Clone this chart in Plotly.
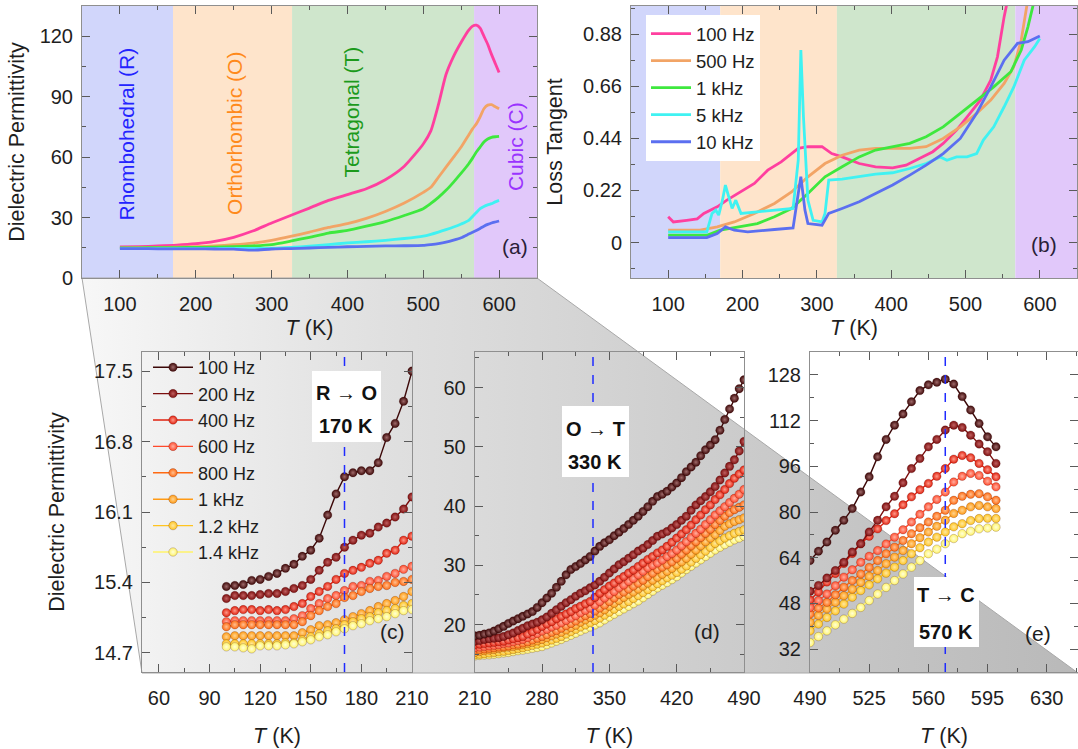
import plotly.graph_objects as go

W, H = 1078, 749
FONT = "Liberation Sans, Arial, sans-serif"

# ---------------- data: panel (a) dielectric permittivity, full range ----------------
T_a = [100, 125, 150, 175, 200, 225, 250, 275, 300, 325, 350, 375, 400, 425, 450, 475, 500,
       510, 520, 530, 540, 550, 560, 565, 570, 575, 580, 585, 590, 595, 600]
eps_a_100Hz = [15.4, 15.6, 15.9, 16.3, 17.0, 18.2, 20.2, 23.3, 27.3, 31.0, 34.7, 38.5, 41.4, 44.3, 48.8, 55.5, 66.5,
               73, 86, 101, 110, 117, 123, 125, 125.5, 124, 120, 116, 111, 106.5, 102]
eps_a_500Hz = [15.0, 15.1, 15.2, 15.3, 15.5, 15.9, 16.5, 17.3, 18.7, 20.6, 22.8, 25.1, 27.0, 29.6, 33.0, 37.2, 42.5,
               45, 50, 55, 60, 65, 71, 74, 76.5, 80, 84, 85.8, 86, 85, 84]
eps_a_1kHz = [15.0, 15.0, 15.1, 15.1, 15.2, 15.3, 15.5, 15.9, 16.6, 18.3, 20.2, 22.3, 23.6, 25.7, 28.0, 31.0, 34.4,
              37, 40, 43.5, 47.6, 52, 56.7, 59.5, 62.5, 65, 67.5, 69, 69.8, 70.1, 70.3]
eps_a_5kHz = [14.6, 14.6, 14.6, 14.6, 14.6, 14.6, 14.7, 14.7, 14.8, 15.2, 15.8, 16.6, 17.4, 18.0, 18.7, 19.6, 20.8,
              21.7, 22.8, 24.0, 25.3, 26.8, 28.6, 30.5, 32.5, 34.4, 35.5, 36.3, 36.9, 37.8, 38.5]
eps_a_10kHz = [14.6, 14.6, 14.5, 14.5, 14.5, 14.4, 14.3, 13.8, 14.4, 14.6, 14.9, 15.2, 15.5, 15.7, 15.9, 16.0, 16.2,
               16.6, 17.1, 17.8, 18.8, 20.0, 21.8, 22.7, 23.6, 24.6, 25.7, 26.6, 27.3, 27.8, 28.3]

# ---------------- data: panel (b) loss tangent ----------------
T_b_100Hz = [100, 107, 125, 139, 148, 166, 179, 198, 216, 234, 252, 275, 288, 307, 320, 334, 357, 379, 402, 420,
             438, 456, 470, 488, 506, 520, 534, 543, 552, 559]
tan_b_100Hz = [0.109, 0.087, 0.094, 0.10, 0.123, 0.151, 0.179, 0.214, 0.25, 0.306, 0.341, 0.398, 0.405, 0.405,
               0.376, 0.362, 0.334, 0.32, 0.316, 0.327, 0.355, 0.384, 0.419, 0.475, 0.546, 0.602, 0.687, 0.785,
               0.955, 1.06]
T_b_500Hz = [100, 143, 166, 189, 216, 243, 266, 288, 311, 334, 357, 379, 425, 447, 470, 493, 515, 534, 552, 565,
             575, 584]
tan_b_500Hz = [0.052, 0.052, 0.066, 0.087, 0.123, 0.165, 0.214, 0.278, 0.334, 0.369, 0.391, 0.398, 0.398, 0.405,
               0.44, 0.489, 0.546, 0.602, 0.673, 0.743, 0.856, 1.03]
T_b_1kHz = [100, 152, 170, 198, 220, 243, 266, 288, 311, 334, 357, 379, 402, 425, 447, 470, 493, 515, 538, 561,
            575, 584, 593]
tan_b_1kHz = [0.031, 0.031, 0.052, 0.066, 0.080, 0.109, 0.144, 0.207, 0.278, 0.32, 0.362, 0.391, 0.405, 0.419,
              0.447, 0.489, 0.546, 0.602, 0.658, 0.722, 0.814, 0.912, 1.03]
T_b_5kHz = [100, 152, 159, 164, 168, 173, 177, 182, 186, 191, 198, 220, 243, 268, 275, 278.5, 282, 288, 295, 307,
            311, 316, 334, 357, 379, 402, 425, 447, 466, 475, 488, 502, 515, 524, 538, 552, 565, 579, 593, 600]
tan_b_5kHz = [0.045, 0.045, 0.123, 0.137, 0.116, 0.179, 0.243, 0.193, 0.144, 0.179, 0.123, 0.130, 0.137, 0.144,
              0.348, 0.814, 0.532, 0.179, 0.094, 0.087, 0.123, 0.264, 0.268, 0.278, 0.289, 0.295, 0.313, 0.334,
              0.362, 0.348, 0.362, 0.362, 0.376, 0.433, 0.489, 0.574, 0.658, 0.771, 0.828, 0.863]
T_b_10kHz = [100, 152, 166, 177, 189, 207, 243, 268, 275, 278.5, 284, 288, 307, 316, 334, 357, 379, 402, 425, 447,
             470, 493, 515, 534, 552, 570, 584, 600]
tan_b_10kHz = [0.021, 0.021, 0.038, 0.066, 0.052, 0.045, 0.055, 0.062, 0.207, 0.278, 0.137, 0.080, 0.073, 0.123,
               0.144, 0.172, 0.207, 0.243, 0.285, 0.327, 0.376, 0.44, 0.546, 0.658, 0.771, 0.842, 0.849, 0.873]

# ---------------- data: panel (c) 100-210 K ----------------
T_c = [100, 105, 110, 115, 120, 125, 130, 135, 140, 145, 150, 155, 160, 165, 170, 175, 180, 185, 190, 195, 200, 205, 210]
eps_c_100Hz = [15.36, 15.37, 15.38, 15.42, 15.43, 15.46, 15.49, 15.54, 15.58, 15.66, 15.72, 15.84, 16.07, 16.28,
               16.45, 16.49, 16.51, 16.51, 16.59, 16.84, 16.98, 17.20, 17.50]
eps_c_200Hz = [15.24, 15.27, 15.27, 15.27, 15.28, 15.29, 15.29, 15.31, 15.34, 15.37, 15.43, 15.52, 15.60, 15.65,
               15.75, 15.82, 15.87, 15.89, 15.95, 15.99, 16.05, 16.13, 16.25]
eps_c_400Hz = [15.10, 15.12, 15.13, 15.13, 15.12, 15.13, 15.12, 15.13, 15.16, 15.19, 15.26, 15.31, 15.36, 15.43,
               15.49, 15.52, 15.55, 15.59, 15.62, 15.69, 15.72, 15.82, 15.86]
eps_c_600Hz = [15.01, 15.02, 15.02, 15.02, 15.02, 15.02, 15.02, 15.02, 15.04, 15.07, 15.14, 15.19, 15.24, 15.27,
               15.32, 15.36, 15.37, 15.41, 15.42, 15.46, 15.49, 15.53, 15.56]
eps_c_800Hz = [14.96, 14.98, 14.98, 14.98, 14.98, 14.98, 14.98, 14.98, 14.98, 15.01, 15.07, 15.12, 15.16, 15.19,
               15.25, 15.27, 15.31, 15.34, 15.36, 15.37, 15.40, 15.41, 15.43]
eps_c_1kHz = [14.86, 14.87, 14.87, 14.87, 14.87, 14.87, 14.87, 14.87, 14.87, 14.90, 14.93, 14.97, 14.98, 15.00,
              15.03, 15.06, 15.09, 15.12, 15.16, 15.19, 15.22, 15.26, 15.31]
eps_c_1p2kHz = [14.79, 14.79, 14.79, 14.79, 14.79, 14.79, 14.79, 14.80, 14.80, 14.83, 14.86, 14.89, 14.92, 14.94,
                14.98, 15.01, 15.04, 15.06, 15.10, 15.12, 15.14, 15.17, 15.19]
eps_c_1p4kHz = [14.76, 14.76, 14.75, 14.74, 14.77, 14.77, 14.77, 14.78, 14.79, 14.81, 14.83, 14.86, 14.88, 14.91,
                14.94, 14.97, 14.99, 15.02, 15.04, 15.06, 15.09, 15.12, 15.13]

# ---------------- data: panel (d) 210-490 K ----------------
T_d = [210, 215, 220, 225, 230, 235, 240, 245, 250, 255, 260, 265, 270, 275, 280, 285, 290, 295, 300, 305,
       310, 315, 320, 325, 330, 335, 340, 345, 350, 355, 360, 365, 370, 375, 380, 385, 390, 395, 400, 405,
       410, 415, 420, 425, 430, 435, 440, 445, 450, 455, 460, 465, 470, 475, 480, 485, 490]
eps_d_100Hz = [18.1, 18.2, 18.4, 18.6, 18.9, 19.3, 19.7, 20.2, 20.6, 21.0, 21.4, 21.8, 22.2, 22.9, 23.7, 24.5,
               25.3, 26.3, 27.3, 28.4, 29.3, 29.8, 30.3, 30.9, 31.5, 32.4, 33.2, 33.8, 34.3, 35.0, 35.6, 36.2,
               36.9, 37.6, 38.3, 39.1, 39.9, 40.8, 41.6, 42.0, 42.5, 43.2, 43.9, 44.8, 45.8, 46.6, 47.4, 48.5,
               49.5, 50.3, 51.2, 52.8, 54.6, 56.4, 58.2, 59.8, 61.3]
eps_d_200Hz = [17.2, 17.3, 17.5, 17.6, 17.7, 17.8, 18.0, 18.3, 18.6, 19.0, 19.4, 19.8, 20.1, 20.4, 20.8, 21.3,
               21.9, 22.5, 23.1, 23.7, 24.2, 24.8, 25.3, 25.7, 26.2, 26.7, 27.3, 28.0, 28.7, 29.4, 30.1, 30.6,
               31.2, 31.8, 32.4, 32.9, 33.5, 34.2, 34.9, 35.3, 35.7, 36.3, 36.9, 37.6, 38.3, 39.3, 40.2, 40.9,
               41.6, 42.4, 43.3, 44.4, 45.6, 46.7, 47.8, 49.3, 50.9]
eps_d_400Hz = [16.6, 16.7, 16.8, 16.9, 17.0, 17.1, 17.2, 17.4, 17.6, 17.8, 18.0, 18.4, 18.8, 19.2, 19.7, 20.1,
               20.5, 21.0, 21.4, 21.8, 22.2, 22.7, 23.1, 23.5, 23.9, 24.6, 25.3, 25.9, 26.5, 27.0, 27.6, 28.1,
               28.7, 29.2, 29.8, 30.4, 31.0, 31.5, 32.1, 32.6, 33.2, 33.9, 34.6, 35.3, 36.0, 36.8, 37.7, 38.5,
               39.4, 40.2, 41.1, 41.9, 42.8, 43.8, 44.7, 45.4, 46.1]
eps_d_600Hz = [16.1, 16.2, 16.3, 16.4, 16.5, 16.6, 16.8, 16.9, 17.1, 17.3, 17.5, 17.8, 18.2, 18.5, 18.9, 19.2,
               19.6, 19.9, 20.3, 20.7, 21.1, 21.5, 22.0, 22.4, 22.8, 23.3, 23.9, 24.5, 25.1, 25.6, 26.2, 26.7,
               27.3, 27.8, 28.4, 29.0, 29.6, 30.0, 30.4, 30.9, 31.5, 32.0, 32.6, 33.3, 34.0, 34.7, 35.4, 36.1,
               36.9, 37.7, 38.5, 39.2, 39.9, 40.6, 41.3, 42.0, 42.8]
eps_d_800Hz = [15.7, 15.8, 15.9, 16.0, 16.1, 16.2, 16.3, 16.4, 16.6, 16.7, 16.9, 17.1, 17.4, 17.7, 18.0, 18.3,
               18.7, 19.0, 19.4, 19.8, 20.2, 20.6, 21.1, 21.5, 21.9, 22.3, 22.8, 23.3, 23.9, 24.5, 25.1, 25.5,
               26.0, 26.5, 27.0, 27.5, 28.1, 28.7, 29.3, 29.7, 30.1, 30.6, 31.2, 31.9, 32.6, 33.3, 34.0, 34.7,
               35.4, 36.1, 36.9, 37.6, 38.3, 38.9, 39.4, 39.8, 40.2]
eps_d_1kHz = [15.3, 15.45, 15.6, 15.7, 15.8, 15.95, 16.1, 16.2, 16.3, 16.45, 16.6, 16.8, 17.0, 17.25, 17.5, 17.8,
              18.1, 18.4, 18.7, 19.1, 19.5, 19.9, 20.4, 20.8, 21.2, 21.6, 22.0, 22.5, 23.1, 23.6, 24.1, 24.6,
              25.1, 25.5, 26.0, 26.5, 27.0, 27.5, 28.0, 28.5, 29.0, 29.5, 30.1, 30.6, 31.2, 31.9, 32.6, 33.3,
              34.0, 34.6, 35.2, 35.9, 36.6, 37.0, 37.4, 37.7, 38.0]
eps_d_1p2kHz = [14.9, 15.0, 15.1, 15.2, 15.3, 15.4, 15.5, 15.65, 15.8, 15.95, 16.1, 16.3, 16.5, 16.7, 16.9, 17.15,
                17.4, 17.7, 18.0, 18.4, 18.8, 19.2, 19.6, 19.95, 20.3, 20.7, 21.1, 21.6, 22.1, 22.6, 23.1, 23.5,
                23.9, 24.4, 24.9, 25.4, 25.9, 26.4, 26.9, 27.4, 27.9, 28.35, 28.8, 29.35, 29.9, 30.55, 31.2, 31.8,
                32.4, 33.05, 33.7, 34.15, 34.6, 35.0, 35.4, 35.7, 36.0]
eps_d_1p4kHz = [14.7, 14.8, 14.85, 14.9, 15.0, 15.1, 15.2, 15.3, 15.45, 15.6, 15.7, 15.85, 16.0, 16.15, 16.3, 16.6,
                16.9, 17.2, 17.5, 17.85, 18.2, 18.55, 18.9, 19.25, 19.6, 19.95, 20.3, 20.8, 21.3, 21.75, 22.2, 22.65,
                23.1, 23.55, 24.0, 24.55, 25.1, 25.65, 26.2, 26.65, 27.1, 27.6, 28.1, 28.7, 29.3, 29.85, 30.4, 30.95,
                31.5, 32.05, 32.6, 33.05, 33.5, 33.9, 34.3, 34.6, 34.9]

# ---------------- data: panel (e) 490-600 K ----------------
T_e = [490, 495, 500, 505, 510, 515, 520, 525, 530, 535, 540, 545, 550, 555, 560, 565, 570, 575, 580, 585, 590, 595, 600]
eps_e_100Hz = [63.0, 66.3, 69.5, 73.6, 77.1, 81.2, 87.0, 92.3, 99.3, 105.4, 110.4, 114.3, 118.6, 122.5, 124.5, 125.4,
               126.5, 124.8, 120.4, 115.7, 111.0, 106.3, 102.8]
eps_e_200Hz = [52.3, 54.3, 56.9, 59.5, 62.4, 66.0, 68.9, 73.0, 77.1, 81.8, 85.5, 90.2, 95.2, 98.7, 102.8, 105.4,
               108.7, 110.4, 109.6, 106.9, 103.8, 101.1, 97.0]
eps_e_400Hz = [49.2, 52.0, 55.5, 58.5, 62.0, 65.5, 68.9, 71.5, 74.1, 77.0, 79.4, 82.5, 85.3, 87.8, 90.0, 92.5,
               95.2, 98.5, 99.8, 99.0, 97.0, 94.8, 92.3]
eps_e_600Hz = [46.6, 49.0, 51.3, 54.2, 57.2, 59.8, 62.4, 64.5, 66.5, 68.8, 71.2, 73.8, 76.5, 79.2, 81.8, 84.4,
               87.0, 90.5, 92.5, 93.5, 92.8, 90.8, 88.8]
eps_e_800Hz = [44.3, 46.4, 48.4, 51.0, 53.7, 56.0, 58.3, 60.6, 63.0, 65.4, 67.7, 70.0, 72.4, 74.5, 76.5, 78.5,
               80.6, 84.1, 85.5, 86.2, 86.4, 85.3, 84.1]
eps_e_1kHz = [41.4, 43.8, 46.1, 48.4, 50.7, 53.0, 55.4, 57.5, 59.5, 61.9, 64.2, 66.5, 68.9, 71.0, 73.0, 75.0,
              77.1, 79.5, 80.6, 81.8, 82.3, 81.8, 81.2]
eps_e_1p2kHz = [38.4, 40.8, 43.1, 45.4, 47.8, 50.2, 52.5, 54.5, 56.6, 58.6, 60.7, 63.0, 65.4, 67.5, 69.5, 71.2,
                73.0, 74.8, 75.9, 77.0, 77.7, 77.8, 77.7]
eps_e_1p4kHz = [34.3, 36.4, 38.4, 40.5, 42.5, 44.5, 46.6, 49.0, 51.3, 53.6, 56.0, 58.3, 60.7, 63.0, 65.4, 67.0,
                68.9, 70.7, 72.4, 73.3, 74.1, 74.4, 74.7]

# ---------------- labels / categories ----------------
freq_ab = ["100 Hz", "500 Hz", "1 kHz", "5 kHz", "10 kHz"]
col_ab = ["#ff3f9f", "#f2a466", "#3ee83e", "#3ff2f2", "#5b6ff0"]
freq_cde = ["100 Hz", "200 Hz", "400 Hz", "600 Hz", "800 Hz", "1 kHz", "1.2 kHz", "1.4 kHz"]
col_cde = ["#3c0808", "#7c0e0e", "#e0200e", "#ff4a2c", "#ff6a12", "#ff9a14", "#ffc420", "#fff36a"]
hi_cde = ["#a06a6a", "#c06060", "#ff9a8a", "#ffb0a0", "#ffc090", "#ffd490", "#ffe8a0", "#ffffd8"]
phase_names = ["Rhombohedral (R)", "Orthorhombic (O)", "Tetragonal (T)", "Cubic (C)"]
phase_bounds = [50, 170, 327, 567, 650]
phase_fill = ["#d1d6fb", "#fee4cb", "#cfe6cc", "#e1c8fa"]
phase_text_col = ["#2323ff", "#ff8a1c", "#1c9a1c", "#9a33ff"]
phase_text_pos = [(109, 71.6), (252, 71.6), (405, 82.3), (621, 65.0)]

series_a = [eps_a_100Hz, eps_a_500Hz, eps_a_1kHz, eps_a_5kHz, eps_a_10kHz]
series_b = [(T_b_100Hz, tan_b_100Hz), (T_b_500Hz, tan_b_500Hz), (T_b_1kHz, tan_b_1kHz),
            (T_b_5kHz, tan_b_5kHz), (T_b_10kHz, tan_b_10kHz)]
series_c = [eps_c_100Hz, eps_c_200Hz, eps_c_400Hz, eps_c_600Hz, eps_c_800Hz, eps_c_1kHz, eps_c_1p2kHz, eps_c_1p4kHz]
series_d = [eps_d_100Hz, eps_d_200Hz, eps_d_400Hz, eps_d_600Hz, eps_d_800Hz, eps_d_1kHz, eps_d_1p2kHz, eps_d_1p4kHz]
series_e = [eps_e_100Hz, eps_e_200Hz, eps_e_400Hz, eps_e_600Hz, eps_e_800Hz, eps_e_1kHz, eps_e_1p2kHz, eps_e_1p4kHz]


def fx(p):
    return p / W


def fy(p):
    return 1 - p / H


fig = go.Figure()

# background "zoom funnel" linking panel (a) to panels (c)-(e)
funnel_x = [82, 537, 1078, 142, 82]
funnel_y = [278, 278, 673, 673, 278]
fig.add_trace(go.Scatter(
    x=funnel_x, y=funnel_y, xaxis="x", yaxis="y", mode="lines", fill="toself",
    line=dict(color="#a8a8a8", width=1),
    fillgradient=dict(type="horizontal", start=82, stop=1077,
                      colorscale=[[0, "#f7f7f7"], [0.3, "#e0e0e0"], [0.65, "#cccccc"], [1, "#b9b9b9"]]),
    showlegend=False, hoverinfo="skip"))

# panel (a)
for name, col, ys in zip(freq_ab, col_ab, series_a):
    fig.add_trace(go.Scatter(x=T_a, y=ys, xaxis="x2", yaxis="y2", mode="lines",
                             line=dict(color=col, width=2.8, shape="spline", smoothing=0.6),
                             name=name, showlegend=False))
# panel (b)
for name, col, (tx, ty) in zip(freq_ab, col_ab, series_b):
    fig.add_trace(go.Scatter(x=tx, y=ty, xaxis="x3", yaxis="y3", mode="lines",
                             line=dict(color=col, width=2.8), name=name, legend="legend"))


def ball_trace(x, y, i, xa, ya, show):
    return go.Scatter(
        x=x, y=y, xaxis=xa, yaxis=ya, mode="lines+markers", name=freq_cde[i],
        line=dict(color=col_cde[i], width=1.4),
        marker=dict(size=8.5, color=col_cde[i], line=dict(width=0.6, color="rgba(60,0,0,0.35)"),
                    gradient=dict(type="radial", color=hi_cde[i])),
        showlegend=show, legend="legend2")


order = list(range(8))
for i in order:
    fig.add_trace(ball_trace(T_c, series_c[i], i, "x4", "y4", True))
for i in reversed(order):
    fig.add_trace(ball_trace(T_d, series_d[i], i, "x5", "y5", False))
for i in reversed(order):
    fig.add_trace(ball_trace(T_e, series_e[i], i, "x6", "y6", False))

tickfont = dict(family=FONT, size=20, color="#1e1e1e")
titlefont = dict(family=FONT, size=21.5, color="#1e1e1e")


def ax(domain, rng, anchor, dtick=None, tick0=0, mdtick=None, mtick0=0, tickvals=None, ticktext=None,
       title=None, standoff=None, lstand=0):
    d = dict(domain=domain, range=rng, anchor=anchor, showgrid=False, zeroline=False, automargin=False,
             showline=True, linecolor="#8f8f8f", linewidth=1, mirror="ticks",
             ticks="inside", ticklen=8, tickwidth=1, tickcolor="#5a5a5a", tickfont=tickfont,
             ticklabelstandoff=lstand, fixedrange=True)
    if tickvals is not None:
        d.update(tickmode="array", tickvals=tickvals, ticktext=ticktext)
    else:
        d.update(tick0=tick0, dtick=dtick)
    if mdtick is not None:
        d["minor"] = dict(ticks="inside", ticklen=4, tickwidth=1, tickcolor="#5a5a5a",
                          tick0=mtick0, dtick=mdtick, showgrid=False)
    if title is not None:
        d["title"] = dict(text=title, font=titlefont, standoff=standoff)
    return d


TK = "<i>T</i> (K)"
layout = dict(
    width=W, height=H, margin=dict(l=0, r=0, t=0, b=0),
    paper_bgcolor="white", plot_bgcolor="rgba(0,0,0,0)",
    font=dict(family=FONT, color="#1e1e1e"),
    hovermode=False,
    xaxis=dict(domain=[0, 1], range=[0, W], visible=False, fixedrange=True, anchor="y", automargin=False),
    yaxis=dict(domain=[0, 1], range=[H, 0], visible=False, fixedrange=True, anchor="x", automargin=False),
    xaxis2=ax([fx(82), fx(537)], [50, 650], "y2", dtick=100, mdtick=50, title=TK, standoff=5, lstand=8),
    yaxis2=ax([fy(278), fy(6)], [0, 135], "x2", dtick=30, mdtick=15, title="Dielectric Permittivity",
              standoff=9, lstand=4),
    xaxis3=ax([fx(631), fx(1077)], [50, 650], "y3", dtick=100, mdtick=50, title=TK, standoff=5, lstand=8),
    yaxis3=ax([fy(278), fy(6)], [-0.15, 1.0], "x3", tickvals=[0, 0.22, 0.44, 0.66, 0.88],
              ticktext=["0", "0.22", "0.44", "0.66", "0.88"], mdtick=0.11, mtick0=0,
              title="Loss Tangent", standoff=14, lstand=4),
    xaxis4=ax([fx(142), fx(412)], [50, 210], "y4", dtick=30, mdtick=15, title=TK, standoff=19, lstand=8),
    yaxis4=ax([fy(672), fy(352)], [14.51, 17.69], "x4", tickvals=[14.7, 15.4, 16.1, 16.8, 17.5],
              ticktext=["14.7", "15.4", "16.1", "16.8", "17.5"], mdtick=0.35, mtick0=14.7,
              title="Dielectric Permittivity", standoff=23, lstand=4),
    xaxis5=ax([fx(474.7), fx(744)], [210, 490], "y5", dtick=70, mdtick=35, title=TK, standoff=19, lstand=8),
    yaxis5=ax([fy(672), fy(352)], [12, 66], "x5", dtick=10, mdtick=5, lstand=4),
    xaxis6=ax([fx(810), 1.0], [490, 648.5], "y6", dtick=35, mdtick=17.5, title=TK, standoff=19, lstand=8),
    yaxis6=ax([fy(672), fy(352)], [24, 136], "x6", dtick=16, mdtick=8, lstand=4),
    legend=dict(x=fx(646), y=fy(15), xanchor="left", yanchor="top", bgcolor="white", borderwidth=0,
                font=dict(family=FONT, size=18.5, color="#1e1e1e"), tracegroupgap=0, itemwidth=40),
    legend2=dict(x=fx(148), y=fy(349), xanchor="left", yanchor="top", bgcolor="rgba(0,0,0,0)",
                 borderwidth=0, font=dict(family=FONT, size=18, color="#1e1e1e"), tracegroupgap=0,
                 itemwidth=40),
)
fig.update_layout(**layout)

shapes = []
annotations = []
# phase backgrounds in panels (a) and (b)
for xa, ya in (("x2", "y2"), ("x3", "y3")):
    for k in range(4):
        shapes.append(dict(type="rect", xref=xa, yref=ya + " domain", x0=phase_bounds[k], x1=phase_bounds[k + 1],
                           y0=0, y1=1, fillcolor=phase_fill[k], line=dict(width=0), layer="below"))
for k in range(4):
    annotations.append(dict(xref="x2", yref="y2", x=phase_text_pos[k][0], y=phase_text_pos[k][1],
                            text=phase_names[k], textangle=-90, showarrow=False,
                            font=dict(family=FONT, size=21, color=phase_text_col[k])))

# transition markers in panels (c)-(e)
trans = [("x4", "y4", 170, "R \u2192 O", "170 K", (312, 381, 371, 442), 346, 393, 426),
         ("x5", "y5", 333, "O \u2192 T", "330 K", (562, 629, 406, 477), 595, 429, 462),
         ("x6", "y6", 570, "T \u2192 C", "570 K", (914, 979, 577, 647), 946, 595, 632)]
for xa, ya, tx, l1, l2, box, cx, y1, y2 in trans:
    shapes.append(dict(type="line", xref=xa, yref=ya + " domain", x0=tx, x1=tx, y0=0, y1=1,
                       line=dict(color="#1f2bff", width=1.5, dash="dash"), layer="above"))
    shapes.append(dict(type="rect", xref="paper", yref="paper", x0=fx(box[0]), x1=fx(box[1]),
                       y0=fy(box[3]), y1=fy(box[2]), fillcolor="white", line=dict(width=0), layer="above"))
    for txt, yy in ((l1, y1), (l2, y2)):
        annotations.append(dict(xref="paper", yref="paper", x=fx(cx), y=fy(yy), text="<b>" + txt + "</b>",
                                showarrow=False, xanchor="center", yanchor="middle",
                                font=dict(family=FONT, size=20, color="#111111")))

# panel letters
for xa, ya, x, y, t in (("x2", "y2", 621, 15.4, "(a)"), ("x3", "y3", 605, -0.01, "(b)")):
    annotations.append(dict(xref=xa, yref=ya, x=x, y=y, text=t, showarrow=False,
                            font=dict(family=FONT, size=21, color="#2a1e38")))
for px, py, t in ((392, 645, "(c)"), (722, 645, "(d)"), (1053, 647, "(e)")):
    annotations.append(dict(xref="paper", yref="paper", x=fx(px), y=fy(py), text=t, showarrow=False,
                            font=dict(family=FONT, size=21, color="#1e1e1e")))

fig.update_layout(shapes=shapes, annotations=annotations)
fig.write_html("out.html", config={"displayModeBar": False, "staticPlot": True},
               post_script="document.body.style.margin='0px';")
